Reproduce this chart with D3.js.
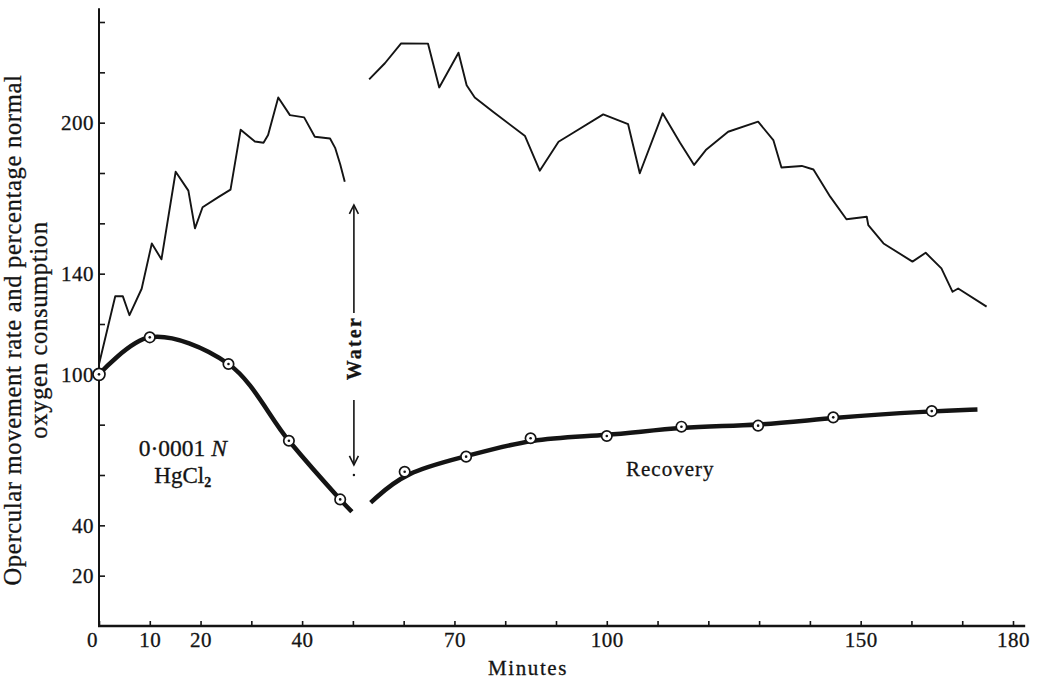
<!DOCTYPE html>
<html><head><meta charset="utf-8">
<script src="https://cdn.jsdelivr.net/npm/d3@7"></script>
<style>
body{margin:0;background:#fff}
text{font-family:"Liberation Serif","Times New Roman",serif;fill:#141414;stroke:#141414;stroke-width:0.3}
</style>
</head><body>
<svg id="chart" width="1042" height="681"></svg>
<script>
// ---- tick values / labels ----
const xTickValues = [0,10,20,30,40,50,60,70,80,90,100,110,120,130,140,150,160,170,180];
const xTickLabels = [0,10,20,40,70,100,150,180];
const yTickValues = [20,40,60,80,100,120,140,160,180,200,220,240];
const yTickLabels = [20,40,100,140,200];

// ---- opercular movement rate (thin line), exposure period ----
const rateTimeA = [0,3.2,4.7,6.0,8.4,10.4,12.3,15.1,17.6,18.9,20.4,23.5,25.9,27.9,30.7,32.4,33.3,35.3,37.6,40.4,42.5,45.5,46.5,47.5,48.4];
const rateValA  = [104,131,131,123.5,134,152,145.7,180.5,173,158,166.4,170.4,173.4,197.2,192.5,192,195.1,210,203,202.1,194.4,193.7,190,183.5,176.5];

// ---- opercular movement rate (thin line), recovery period ----
const rateTimeB = [53.2,56.3,59.5,64.8,67.0,70.8,72.4,74.0,77.6,83.9,86.8,90.5,93.4,99.3,104.2,106.5,111.0,114.4,117.2,119.5,123.9,129.8,132.8,134.4,138.4,140.7,144.0,147.2,151.2,151.5,154.5,160.2,162.8,165.9,168.1,169.2,174.8];
const rateValB  = [217.2,223.6,231.5,231.4,214,227.8,214.9,210,204.3,194.7,180.9,192.4,196,203.3,199.4,179.9,203.7,192.1,183.2,189.1,196.4,200.4,193.1,182.2,182.8,181.4,170.6,161.6,162.6,159.3,152,144.8,148.3,142.1,132.8,134.1,126.9];

// ---- oxygen consumption (thick line, circles), HgCl2 ----
const hgTime = [0,10,25.5,37.4,47.5];
const hgO2   = [100,114.7,104.1,73.6,50.3];
const hgLineEnd = [49.8,45.4];

// ---- oxygen consumption (thick line, circles), recovery ----
const recTime = [60.2,72.3,85,100,114.7,129.8,144.6,164];
const recO2   = [61.3,67.3,74.6,75.5,79.2,79.6,82.9,85.4];
const recLineStart = [53.5,49];
const recLineEnd   = [173,86];

// ---- "Water" marker ----
const waterTime = 50.2;
const waterUpArrow = [124.4,167.3];
const waterDownArrow = [89.8,64];
const waterLabelAt = 110.4;

const svg = d3.select("#chart");
const x = d3.scaleLinear().domain([0,180]).range([99,1013]);
const y = d3.scaleLinear().domain([0,240]).range([626,22]);
const ink = "#141414";

// axes
const gx = svg.append("g").attr("transform",`translate(0,${y(0)})`)
  .call(d3.axisBottom(x).tickValues(xTickValues).tickSizeInner(-5).tickSizeOuter(0).tickPadding(6)
    .tickFormat(d => xTickLabels.includes(d) ? d : ""));
gx.select(".domain").remove();
gx.selectAll(".tick line").attr("stroke",ink).attr("stroke-width",1.6);
gx.selectAll(".tick text").attr("font-size",21).attr("font-family","Liberation Serif").attr("fill",ink)
  .attr("letter-spacing",0.5).attr("dx", d => d===0 ? -7 : 0);

const gy = svg.append("g").attr("transform",`translate(${x(0)},0)`)
  .call(d3.axisLeft(y).tickValues(yTickValues).tickSizeInner(-6).tickSizeOuter(0).tickPadding(5)
    .tickFormat(d => yTickLabels.includes(d) ? d : ""));
gy.select(".domain").remove();
gy.selectAll(".tick line").attr("stroke",ink).attr("stroke-width",1.6);
gy.selectAll(".tick text").attr("font-size",21).attr("font-family","Liberation Serif").attr("fill",ink)
  .attr("letter-spacing",0.5);

svg.append("line").attr("x1",x(0)).attr("x2",x(0)).attr("y1",y(0)+1).attr("y2",y(245.5))
  .attr("stroke",ink).attr("stroke-width",2);
svg.append("line").attr("x1",x(0)-1).attr("x2",x(182.4)).attr("y1",y(0)).attr("y2",y(0))
  .attr("stroke",ink).attr("stroke-width",2.4);

// axis titles
svg.append("text").attr("x",528).attr("y",675).attr("text-anchor","middle")
  .attr("font-size",21).attr("letter-spacing",1.6).text("Minutes");
const yt = svg.append("text").attr("transform",`translate(0,${330}) rotate(-90)`)
  .attr("text-anchor","middle").attr("font-size",24.5).attr("letter-spacing",0.7);
yt.append("tspan").attr("x",0).attr("y",21).text("Opercular movement rate and percentage normal");
yt.append("tspan").attr("x",0).attr("y",47).text("oxygen consumption");

// thin lines
const thin = d3.line().x(d=>x(d[0])).y(d=>y(d[1]));
[[rateTimeA,rateValA],[rateTimeB,rateValB]].forEach(([t,v])=>{
  svg.append("path").datum(t.map((d,i)=>[d,v[i]])).attr("d",thin)
    .attr("fill","none").attr("stroke",ink).attr("stroke-width",1.9).attr("stroke-linejoin","round");
});

// thick lines
const hgPts = hgTime.map((d,i)=>[d,hgO2[i]]).concat([hgLineEnd]);
svg.append("path").datum(hgPts)
  .attr("d", d3.line().x(d=>x(d[0])).y(d=>y(d[1])).curve(d3.curveCatmullRom.alpha(0.5)))
  .attr("fill","none").attr("stroke",ink).attr("stroke-width",4.5).attr("stroke-linecap","butt");
const recPts = [recLineStart].concat(recTime.map((d,i)=>[d,recO2[i]])).concat([recLineEnd]);
svg.append("path").datum(recPts)
  .attr("d", d3.line().x(d=>x(d[0])).y(d=>y(d[1])).curve(d3.curveBasis))
  .attr("fill","none").attr("stroke",ink).attr("stroke-width",4.5).attr("stroke-linecap","butt");

// circle markers
function markers(t,v){
  const g = svg.append("g");
  t.forEach((d,i)=>{
    g.append("circle").attr("cx",x(d)).attr("cy",y(v[i])).attr("r", d===0?6:5.2)
      .attr("fill","#fff").attr("stroke",ink).attr("stroke-width",1.7);
    g.append("circle").attr("cx",x(d)).attr("cy",y(v[i])).attr("r",1.3).attr("fill",ink);
  });
}
markers(hgTime,hgO2);
markers(recTime,recO2);

// water marker
const wx = x(waterTime);
svg.append("line").attr("x1",wx).attr("x2",wx).attr("y1",y(waterUpArrow[0])).attr("y2",y(waterUpArrow[1]))
  .attr("stroke",ink).attr("stroke-width",1.6);
svg.append("path").attr("d",`M${wx-4.5},${y(waterUpArrow[1])+9} L${wx},${y(waterUpArrow[1])} L${wx+4.5},${y(waterUpArrow[1])+9}`)
  .attr("fill","none").attr("stroke",ink).attr("stroke-width",1.6);
svg.append("line").attr("x1",wx).attr("x2",wx).attr("y1",y(waterDownArrow[0])).attr("y2",y(waterDownArrow[1]))
  .attr("stroke",ink).attr("stroke-width",1.6);
svg.append("path").attr("d",`M${wx-4.5},${y(waterDownArrow[1])-9} L${wx},${y(waterDownArrow[1])} L${wx+4.5},${y(waterDownArrow[1])-9}`)
  .attr("fill","none").attr("stroke",ink).attr("stroke-width",1.6);
svg.append("circle").attr("cx",wx).attr("cy",y(waterDownArrow[1])+10).attr("r",1.2).attr("fill",ink);
svg.append("text").attr("transform",`translate(${wx+7},${y(waterLabelAt)}) rotate(-90)`)
  .attr("text-anchor","middle").attr("font-size",20).attr("font-weight","bold").attr("letter-spacing",2.2)
  .text("Water");

// labels
const lab = svg.append("text").attr("x",x(16.5)).attr("y",456).attr("text-anchor","middle")
  .attr("font-size",23.5);
lab.append("tspan").text("0·0001 ");
lab.append("tspan").attr("font-style","italic").text("N");
const hg = svg.append("text").attr("x",x(16.5)).attr("y",483).attr("text-anchor","middle").attr("font-size",23);
hg.append("tspan").text("HgCl");
hg.append("tspan").attr("font-size",14).attr("dy",4).attr("font-weight","bold").text("2");
svg.append("text").attr("x",x(112.5)).attr("y",476).attr("text-anchor","middle")
  .attr("font-size",21).attr("letter-spacing",1).text("Recovery");
</script>
</body></html>
